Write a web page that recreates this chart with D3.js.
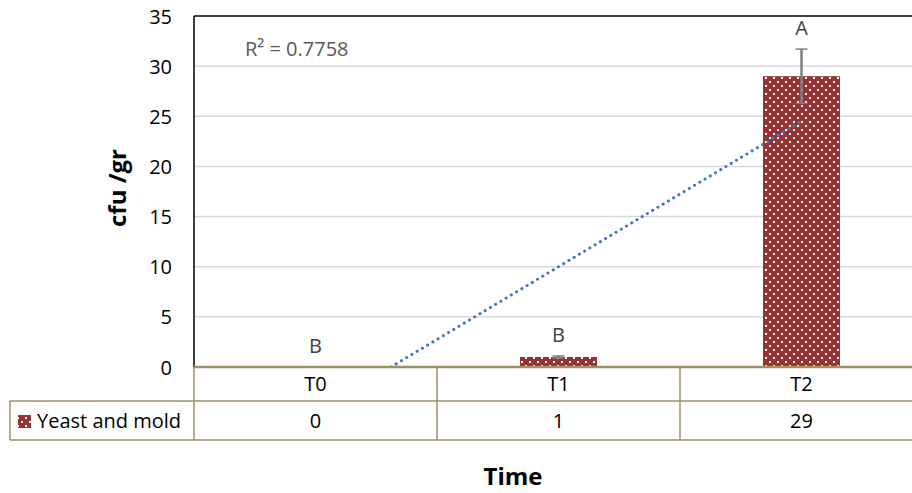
<!DOCTYPE html>
<html><head><meta charset="utf-8">
<script src="https://cdn.jsdelivr.net/npm/d3@7"></script>
<style>body{margin:0;background:#fff}svg{display:block}text{font-family:"Open Sans",sans-serif}</style>
</head><body>
<svg id="c" width="912" height="493"></svg>
<script>
const categories = ["T0","T1","T2"];
const values = [0, 1, 29];
const errors = [0, 0.1, 2.7];
const letters = ["B","B","A"];
const seriesName = "Yeast and mold";
const yTicks = [0,5,10,15,20,25,30,35];
const r2Label = "R² = 0.7758";

const svg = d3.select("#c");
const L = 194, T = 16, B = 367, bandW = 243;
const FS = 20;
const x = d3.scaleBand().domain(categories).range([L, L + bandW*3]).paddingInner(0).paddingOuter(0);
const y = d3.scaleLinear().domain([0,35]).range([B, T]);
const olive = "#9e9163";

const defs = svg.append("defs");
const pat = defs.append("pattern").attr("id","dots").attr("patternUnits","userSpaceOnUse").attr("width",8).attr("height",8);
pat.append("rect").attr("width",8).attr("height",8).attr("fill","#993333");
pat.append("rect").attr("x",1).attr("y",1).attr("width",2).attr("height",2).attr("fill","#fff");
pat.append("rect").attr("x",5).attr("y",5).attr("width",2).attr("height",2).attr("fill","#fff");
defs.append("clipPath").attr("id","clip").append("rect").attr("x",L).attr("y",T).attr("width",912-L).attr("height",B-T);

// gridlines
svg.append("g").selectAll("line").data(yTicks.filter(d=>d>0&&d<35)).join("line")
  .attr("x1",L).attr("x2",912).attr("y1",d=>y(d)).attr("y2",d=>y(d))
  .attr("stroke","#d9d9d9").attr("stroke-width",1.5);

// y axis labels
const yAxis = d3.axisLeft(y).tickValues(yTicks).tickSize(0).tickPadding(0);
const ya = svg.append("g").attr("transform",`translate(172,0)`).call(yAxis);
ya.select(".domain").remove();
ya.selectAll("text").attr("font-size",FS).attr("fill","#000").attr("dy","0.35em").attr("font-family","Open Sans");

// bars
const bw = 77;
svg.append("g").selectAll("rect").data(values).join("rect")
  .attr("x",(d,i)=>x(categories[i])+x.bandwidth()/2-bw/2)
  .attr("width",bw)
  .attr("y",d=>y(d)).attr("height",d=>B-y(d))
  .attr("fill","url(#dots)");

// error bars
const eg = svg.append("g").attr("stroke","#7f7f7f").attr("stroke-width",1.5);
values.forEach((v,i)=>{
  if(!errors[i]) return;
  const cx = x(categories[i])+x.bandwidth()/2;
  eg.append("line").attr("x1",cx).attr("x2",cx).attr("y1",y(v+errors[i])).attr("y2",y(v-errors[i])).attr("stroke-width",2.5);
  [v+errors[i], v-errors[i]].forEach(e=>eg.append("line").attr("x1",cx-6).attr("x2",cx+6).attr("y1",y(e)).attr("y2",y(e)));
});

// trendline (linear regression on index 1..n)
const xs = values.map((d,i)=>i+1);
const mx = d3.mean(xs), my = d3.mean(values);
const slope = d3.sum(xs.map((xi,i)=>(xi-mx)*(values[i]-my)))/d3.sum(xs.map(xi=>(xi-mx)**2));
const icpt = my - slope*mx;
const px = t => x(categories[0]) + x.bandwidth()/2 + (t-1)*bandW;
const t0 = -icpt/slope;
svg.append("line").attr("clip-path","url(#clip)")
  .attr("x1",px(t0)).attr("y1",y(0)).attr("x2",px(3)).attr("y2",y(slope*3+icpt))
  .attr("stroke","#4472c4").attr("stroke-width",3).attr("stroke-dasharray","0.1 6").attr("stroke-linecap","round");

// letters
svg.append("g").selectAll("text").data(letters).join("text")
  .attr("x",(d,i)=>x(categories[i])+x.bandwidth()/2)
  .attr("y",(d,i)=>y(values[i]+errors[i])-14)
  .attr("text-anchor","middle").attr("font-size",FS).attr("fill","#404040").text(d=>d);

svg.append("text").attr("x",245).attr("y",56).attr("font-size",FS).attr("fill","#595959").text(r2Label);

// plot borders
svg.append("line").attr("x1",L).attr("x2",912).attr("y1",T).attr("y2",T).attr("stroke","#000").attr("stroke-width",1.5);
svg.append("line").attr("x1",L).attr("x2",L).attr("y1",T).attr("y2",B).attr("stroke","#000").attr("stroke-width",1.5);

// data table
const R1 = 401, R2 = 440;
const tg = svg.append("g").attr("stroke",olive).attr("stroke-width",1.5);
tg.append("line").attr("x1",10).attr("x2",912).attr("y1",R1).attr("y2",R1);
tg.append("line").attr("x1",10).attr("x2",912).attr("y1",R2).attr("y2",R2);
tg.append("line").attr("x1",10).attr("x2",10).attr("y1",R1).attr("y2",R2);
[L, x("T1"), x("T2")].forEach(v=>tg.append("line").attr("x1",v).attr("x2",v).attr("y1",B).attr("y2",R2));
svg.append("line").attr("x1",L).attr("x2",912).attr("y1",B).attr("y2",B).attr("stroke",olive).attr("stroke-width",2.5);

const xa = d3.axisBottom(x).tickSize(0).tickPadding(0);
const xg = svg.append("g").attr("transform",`translate(0,${(B+R1)/2})`).call(xa);
xg.select(".domain").remove();
xg.selectAll("text").attr("font-size",FS).attr("fill","#000").attr("dy","0.35em").attr("font-family","Open Sans");

svg.append("g").selectAll("text").data(values).join("text")
  .attr("x",(d,i)=>x(categories[i])+x.bandwidth()/2).attr("y",(R1+R2)/2).attr("dy","0.35em")
  .attr("text-anchor","middle").attr("font-size",FS).text(d=>d);

svg.append("rect").attr("x",18).attr("y",415).attr("width",13).attr("height",13).attr("fill","url(#dots)");
svg.append("text").attr("x",37).attr("y",(R1+R2)/2).attr("dy","0.35em").attr("font-size",FS).text(seriesName);

// titles
svg.append("text").attr("transform","translate(126,188) rotate(-90)").attr("text-anchor","middle")
  .attr("font-size",24).attr("font-weight","bold").text("cfu /gr");
svg.append("text").attr("x",513).attr("y",485).attr("text-anchor","middle")
  .attr("font-size",24).attr("font-weight","bold").text("Time");
</script>
</body></html>
